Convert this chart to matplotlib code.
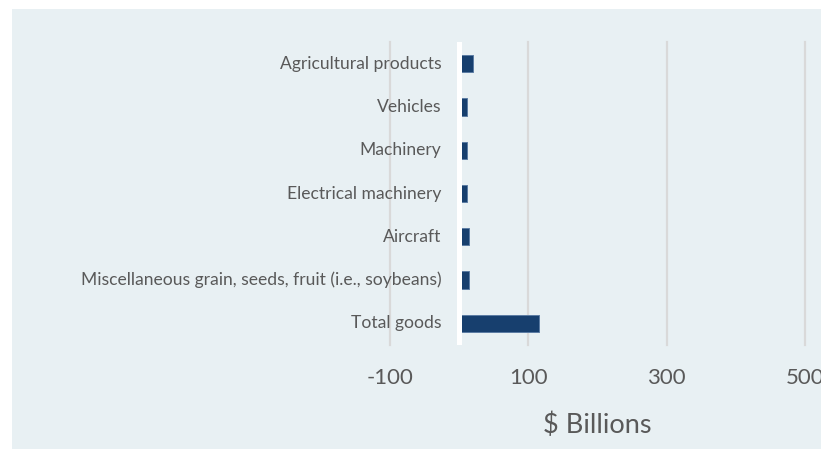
import matplotlib
matplotlib.use('Agg')
from matplotlib import pyplot as plt
from matplotlib.patches import Rectangle

categories = ['Agricultural products', 'Vehicles', 'Machinery', 'Electrical machinery',
              'Aircraft', 'Miscellaneous grain, seeds, fruit (i.e., soybeans)', 'Total goods']
values = [21, 11.3, 11.3, 11.8, 15.2, 15.2, 116]
ticks = [-100, 100, 300, 500]

bg = '#e8f0f3'
grey = '#595959'
plt.rcParams['font.family'] = ['Lato', 'DejaVu Sans']

fig = plt.figure(figsize=(8.21, 4.49), dpi=100)
fig.patches.append(Rectangle((12 / 821, 0), 1, 1 - 9 / 449, transform=fig.transFigure,
                             facecolor=bg, edgecolor='none', zorder=-5))

ax = fig.add_axes([389.7 / 821, 1 - 345 / 449, (805 - 389.7) / 821, (345 - 42) / 449])
ax.set_facecolor('none')
ax.set_zorder(1)

y = list(range(len(categories)))
ax.barh(y, values, height=0.4, color='#173f6e', edgecolor='#5b7ca3', linewidth=0.7, zorder=2)
ax.axvline(0, color='white', lw=3.6, zorder=3)

for yi, name in zip(y, categories):
    ax.text(-25, yi, name, ha='right', va='center', fontsize=12.6, color=grey, zorder=4)

ax.set_xlim(-100, 500)
ax.set_ylim(len(categories) - 0.5, -0.5)
ax.set_xticks(ticks)
ax.set_xticklabels([str(t) for t in ticks], fontsize=16, color=grey)
ax.set_yticks([])
ax.tick_params(axis='x', length=0, pad=16.5)
ax.grid(True, axis='x', color='#d9d9d9', lw=1.6, zorder=1)
for gl in ax.get_xgridlines():
    gl.set_clip_on(False)
for s in ax.spines.values():
    s.set_visible(False)

ax.set_xlabel('$ Billions', fontsize=19.5, color=grey, labelpad=18)

fig.savefig('out.png', dpi=100, facecolor='white')
